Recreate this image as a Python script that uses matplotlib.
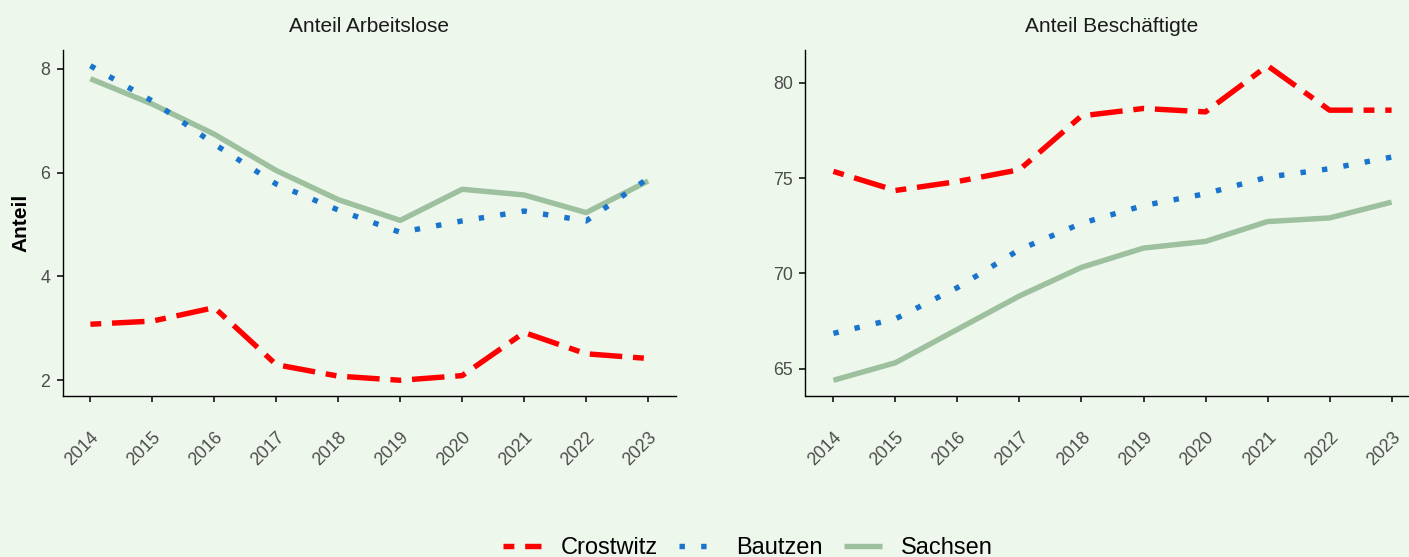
import matplotlib
matplotlib.use("Agg")
import matplotlib.pyplot as plt
from matplotlib.lines import Line2D

years = [2014, 2015, 2016, 2017, 2018, 2019, 2020, 2021, 2022, 2023]
series_names = ["Crostwitz", "Bautzen", "Sachsen"]

# Anteil Arbeitslose
arb_crostwitz = [3.08, 3.14, 3.40, 2.30, 2.08, 2.00, 2.09, 2.92, 2.51, 2.42]
arb_bautzen = [8.06, 7.38, 6.55, 5.78, 5.28, 4.85, 5.07, 5.26, 5.07, 5.89]
arb_sachsen = [7.81, 7.32, 6.74, 6.04, 5.48, 5.08, 5.68, 5.57, 5.23, 5.84]

# Anteil Beschäftigte
bes_crostwitz = [75.35, 74.35, 74.82, 75.44, 78.26, 78.65, 78.47, 80.89, 78.56, 78.56]
bes_bautzen = [66.86, 67.62, 69.26, 71.25, 72.63, 73.56, 74.18, 75.05, 75.49, 76.10]
bes_sachsen = [64.40, 65.32, 67.07, 68.82, 70.32, 71.33, 71.68, 72.72, 72.91, 73.74]

panel_titles = ["Anteil Arbeitslose", "Anteil Beschäftigte"]
left_yticks = [2, 4, 6, 8]
right_yticks = [65, 70, 75, 80]

BG = "#EEF7EC"
colors = {"Crostwitz": "#FF0000", "Bautzen": "#1874CD", "Sachsen": "#9DC09E"}
styles = {"Crostwitz": (0, (2, 2, 6, 2)), "Bautzen": (0, (1, 3)), "Sachsen": "-"}
LW = 3.9

plt.rcParams["font.family"] = ["Liberation Sans", "DejaVu Sans"]

W, H = 1409, 557
fig = plt.figure(figsize=(W / 100, H / 100), dpi=100, facecolor=BG)

def px_axes(x0, x1, y0, y1):
    return fig.add_axes([x0 / W, 1 - y1 / H, (x1 - x0) / W, (y1 - y0) / H])

ax1 = px_axes(62.5, 676, 50, 396)
ax2 = px_axes(805.5, 1419.5, 50, 396)

data = [
    (ax1, [arb_crostwitz, arb_bautzen, arb_sachsen], left_yticks),
    (ax2, [bes_crostwitz, bes_bautzen, bes_sachsen], right_yticks),
]

for ax, vals, yt in data:
    ax.set_facecolor(BG)
    z = {"Sachsen": 2, "Bautzen": 3, "Crostwitz": 4}
    for name, v in zip(series_names, vals):
        ax.plot(years, v, color=colors[name], linestyle=styles[name], lw=LW,
                solid_capstyle="butt", dash_capstyle="butt", zorder=z[name])
    allv = [x for v in vals for x in v]
    lo, hi = min(allv), max(allv)
    pad = 0.05 * (hi - lo)
    ax.set_ylim(lo - pad, hi + pad)
    ax.set_xlim(2014 - 0.45, 2023 + 0.45)
    ax.set_yticks(yt)
    ax.set_xticks(years)
    ax.set_xticklabels([str(y) for y in years], rotation=45, ha="right", va="top",
                       rotation_mode="anchor")
    for s in ["top", "right"]:
        ax.spines[s].set_visible(False)
    for s in ["left", "bottom"]:
        ax.spines[s].set_color("black")
        ax.spines[s].set_linewidth(1.0)
    ax.tick_params(axis="both", length=4.5, width=1.4, color="#333333",
                   labelcolor="#4D4D4D", labelsize=12.8)
    ax.tick_params(axis="y", pad=4.5)
    ax.tick_params(axis="x", pad=19)

fig.text(369 / W, 1 - 27 / H, panel_titles[0], ha="center", va="center",
         fontsize=15, color="#1A1A1A")
fig.text(1112 / W, 1 - 27 / H, panel_titles[1], ha="center", va="center",
         fontsize=15, color="#1A1A1A")
fig.text(21 / W, 1 - 223 / H, "Anteil", rotation=90, ha="center", va="center",
         fontsize=15, fontweight="bold", color="black")

handles = [Line2D([0], [0], color=colors[n], linestyle=styles[n], lw=LW,
                  dash_capstyle="butt", solid_capstyle="butt") for n in series_names]
fig.legend(handles, series_names, loc="center", bbox_to_anchor=(748 / W, 1 - 548 / H),
           ncol=3, frameon=False, fontsize=17, handlelength=1.6,
           handletextpad=0.83, columnspacing=0.9, borderpad=0.2)

fig.savefig("out.png", dpi=100, facecolor=BG)
